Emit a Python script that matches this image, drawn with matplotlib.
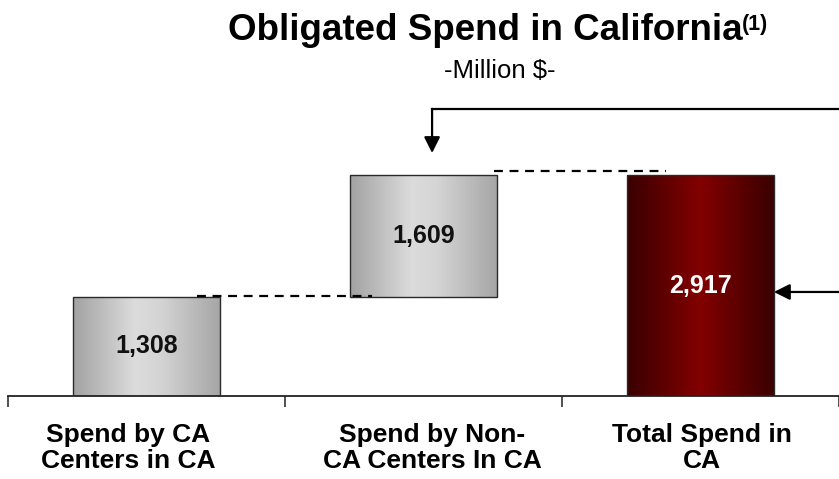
import numpy as np
import matplotlib.pyplot as plt
from matplotlib.colors import LinearSegmentedColormap

plt.rcParams['font.family'] = ['Liberation Sans', 'DejaVu Sans']

# data (million $)
categories = ['Spend by CA\nCenters in CA', 'Spend by Non-\nCA Centers In CA', 'Total Spend in\nCA']
step_values = [1308, 1609]
total_value = 2917
value_labels = ['1,308', '1,609', '2,917']

heights = step_values + [total_value]
bottoms = [0, step_values[0], 0]

W, H = 839, 479
fig = plt.figure(figsize=(W / 100, H / 100), dpi=100)
ax = fig.add_axes([8 / W, 1 - 396 / H, 831 / W, 296 / H])

x = np.arange(len(categories))
bars = ax.bar(x, heights, bottom=bottoms, width=0.53, color='none',
              edgecolor='#2a2a2a', linewidth=1.0, zorder=3)

gray_cmap = LinearSegmentedColormap.from_list(
    'g', [(0, '#a2a2a2'), (0.42, '#dcdcdc'), (0.6, '#d4d4d4'), (1, '#a6a6a6')])
red_cmap = LinearSegmentedColormap.from_list(
    'r', [(0, '#3a0000'), (0.5, '#820000'), (1, '#3a0000')])

grad = np.linspace(0, 1, 256).reshape(1, -1)
for i, b in enumerate(bars):
    cmap = red_cmap if i == 2 else gray_cmap
    x0, y0 = b.get_x(), b.get_y()
    im = ax.imshow(grad, cmap=cmap, aspect='auto', zorder=2,
                   extent=[x0, x0 + b.get_width(), y0, y0 + b.get_height()])
    im.set_clip_path(b)
    ax.text(b.get_x() + b.get_width() / 2, y0 + b.get_height() / 2, value_labels[i],
            ha='center', va='center', fontsize=18, fontweight='bold',
            color='white' if i == 2 else '#111111', zorder=4)

ax.set_xlim(-0.5, 2.5)
ax.set_ylim(0, 3907)

# connector lines between steps
dash = (0, (4, 3))
ax.plot([0.182, 0.814], [heights[0] + 12, heights[0] + 12], color='black', lw=1.6,
        linestyle=dash, zorder=5)
ax.plot([1.255, 1.875], [total_value + 55, total_value + 55], color='black', lw=1.6,
        linestyle=dash, zorder=5)

# bracket arrow from the right
ax.plot([2.6, 1.031], [3786, 3786], color='black', lw=1.6, clip_on=False)
ax.annotate('', xy=(1.031, 3207), xytext=(1.031, 3790),
            arrowprops=dict(arrowstyle='-|>', mutation_scale=24, lw=1.6, color='black',
                            shrinkA=0, shrinkB=0), annotation_clip=False)
ax.annotate('', xy=(2.265, 1373), xytext=(2.6, 1373),
            arrowprops=dict(arrowstyle='-|>', mutation_scale=24, lw=1.6, color='black',
                            shrinkA=0, shrinkB=0), annotation_clip=False)

for s in ['top', 'right', 'left']:
    ax.spines[s].set_visible(False)
ax.spines['bottom'].set_linewidth(1.3)
ax.spines['bottom'].set_color('#222222')
ax.set_yticks([])
ax.set_xticks([-0.5, 0.5, 1.5, 2.5])
ax.set_xticklabels([])
ax.tick_params(axis='x', length=8, width=1.2, color='#333333', direction='out')

# category labels (sit slightly off the bar centres, as in the source)
label_x = [-0.067, 1.031, 2.005]
for lx, lab in zip(label_x, categories):
    ax.text(lx, -(468 - 396) / 0.07576, lab, ha='center', va='baseline',
            fontsize=19, fontweight='bold', linespacing=1.12, clip_on=False)

fig.text(485 / W, 1 - 39.5 / H, 'Obligated Spend in California', ha='center', va='baseline',
         fontsize=26.5, fontweight='bold')
fig.text(742 / W, 1 - 30 / H, '(1)', ha='left', va='baseline', fontsize=15.5, fontweight='bold')
fig.text(500 / W, 1 - 78 / H, '-Million $-', ha='center', va='baseline', fontsize=18.5)

fig.savefig('out.png', dpi=100)
